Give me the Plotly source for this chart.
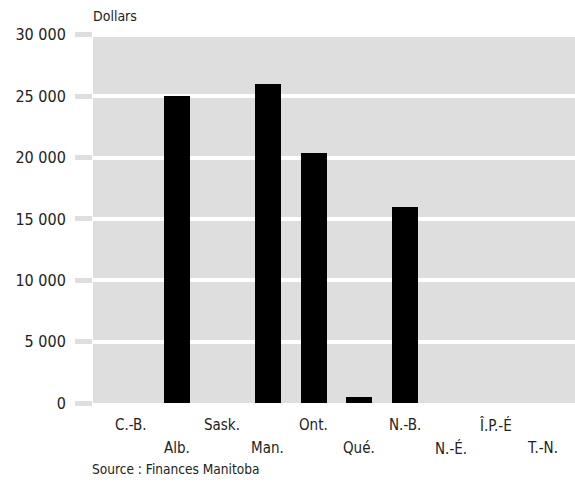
import plotly.graph_objects as go

provinces = ["C.-B.", "Alb.", "Sask.", "Man.", "Ont.", "Qué.", "N.-B.", "N.-É.", "Î.P.-É", "T.-N."]
values = [0, 25000, 0, 26000, 20400, 500, 15950, 0, 0, 0]
ytick_vals = [0, 5000, 10000, 15000, 20000, 25000, 30000]
y_title = "Dollars"
source = "Source : Finances Manitoba"

FONT = "DejaVu Sans Condensed, sans-serif"
xs = list(range(len(provinces)))

fig = go.Figure()
fig.add_trace(go.Bar(x=xs, y=values, width=0.57, marker=dict(color="#000000", line=dict(width=0)),
                     hoverinfo="skip"))

annotations = []
for i, name in enumerate(provinces):
    annotations.append(dict(x=i, y=0, xref="x", yref="paper", text=name, showarrow=False,
                            xanchor="center", yanchor="middle",
                            yshift=-22 if i % 2 == 0 else -45,
                            font=dict(family=FONT, size=15, color="#222222")))
annotations.append(dict(x=-0.004, y=1.046, xref="paper", yref="paper", text=y_title, showarrow=False,
                        xanchor="left", yanchor="middle", font=dict(family=FONT, size=14, color="#222222")))
annotations.append(dict(x=-0.006, y=-0.178, xref="paper", yref="paper", text=source, showarrow=False,
                        xanchor="left", yanchor="middle", font=dict(family=FONT, size=13.6, color="#222222")))

fig.update_layout(
    width=575, height=488,
    margin=dict(l=93, r=0, t=33, b=85),
    paper_bgcolor="#ffffff", plot_bgcolor="#dedede",
    separators=", ",
    showlegend=False,
    bargap=0,
    xaxis=dict(range=[-0.83, 9.72], showticklabels=False, showgrid=False, zeroline=False,
               ticks="", showline=False, fixedrange=True),
    yaxis=dict(range=[0, 30150], tickvals=ytick_vals, tickformat=",d",
               showgrid=True, gridcolor="#ffffff", gridwidth=4, zeroline=False,
               ticks="outside", ticklen=17, tickwidth=5, tickcolor="#dedede",
               ticklabelstandoff=6, showline=False, automargin=False,
               tickfont=dict(family=FONT, size=16, color="#222222"), fixedrange=True),
    annotations=annotations,
)

fig.write_html("out.html")
